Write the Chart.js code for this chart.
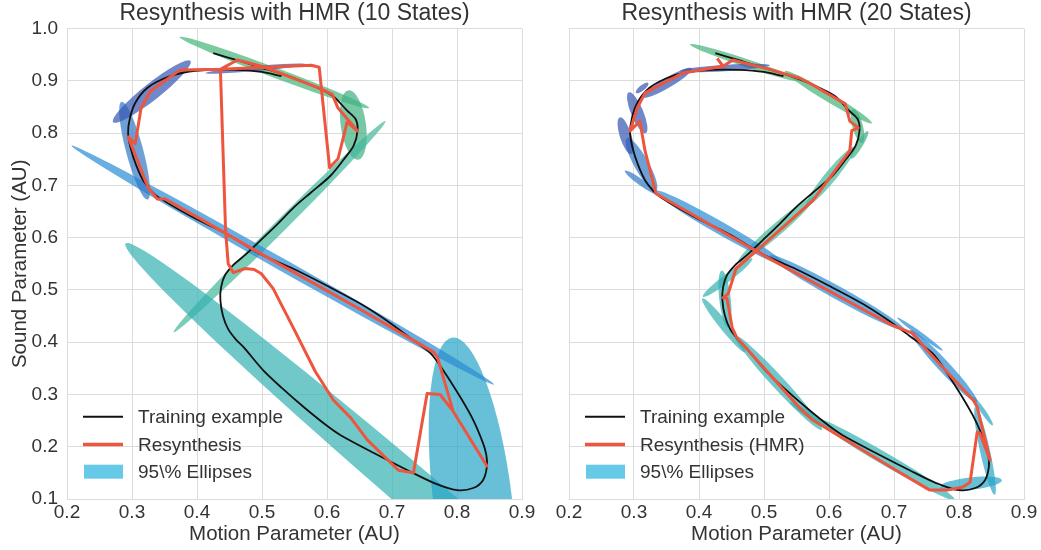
<!DOCTYPE html>
<html>
<head>
<meta charset="utf-8">
<script src="https://cdn.jsdelivr.net/npm/chart.js@4.4.0/dist/chart.umd.min.js"></script>
<style>
  html, body { margin: 0; padding: 0; background: #fff; }
  #wrap { position: relative; width: 1041px; height: 550px; }
  .panel { position: absolute; top: 0; }
  #left { left: 0; }
  #right { left: 545px; }
</style>
</head>
<body>
<div id="wrap">
  <div class="panel" id="left"><canvas id="chart10" width="545" height="550"></canvas></div>
  <div class="panel" id="right"><canvas id="chart20" width="496" height="550"></canvas></div>
</div>
<script>
// Training example (same curve in both panels)
const trainX = [0.425, 0.460, 0.500, 0.550, 0.590, 0.610, 0.631, 0.644, 0.647, 0.641, 0.626, 0.605, 0.575, 0.549, 0.523, 0.497, 0.475, 0.456, 0.443, 0.437, 0.436, 0.440, 0.448, 0.460, 0.472, 0.502, 0.530, 0.565, 0.600, 0.621, 0.672, 0.724, 0.764, 0.800, 0.825, 0.840, 0.846, 0.845, 0.840, 0.825, 0.805, 0.779, 0.759, 0.724, 0.690, 0.651, 0.600, 0.549, 0.497, 0.446, 0.395, 0.338, 0.318, 0.306, 0.298, 0.294, 0.297, 0.306, 0.323, 0.350, 0.380, 0.420, 0.460, 0.500, 0.530];
const trainY = [0.953, 0.940, 0.925, 0.905, 0.884, 0.870, 0.843, 0.827, 0.805, 0.776, 0.750, 0.718, 0.686, 0.658, 0.625, 0.594, 0.568, 0.548, 0.528, 0.505, 0.480, 0.450, 0.425, 0.405, 0.390, 0.346, 0.313, 0.275, 0.240, 0.222, 0.188, 0.155, 0.131, 0.117, 0.121, 0.136, 0.162, 0.185, 0.207, 0.251, 0.295, 0.346, 0.379, 0.412, 0.443, 0.474, 0.508, 0.540, 0.569, 0.607, 0.638, 0.680, 0.708, 0.740, 0.771, 0.800, 0.830, 0.860, 0.886, 0.905, 0.916, 0.921, 0.921, 0.917, 0.909];

// Resynthesis, 10 states
const res10X = [0.436, 0.462, 0.502, 0.590, 0.608, 0.617, 0.647, 0.631, 0.617, 0.604, 0.588, 0.576, 0.436, 0.444, 0.448, 0.456, 0.474, 0.488, 0.499, 0.517, 0.548, 0.582, 0.610, 0.636, 0.662, 0.710, 0.733, 0.754, 0.774, 0.794, 0.846, 0.794, 0.770, 0.764, 0.651, 0.517, 0.405, 0.351, 0.339, 0.325, 0.294, 0.305, 0.314, 0.328, 0.374, 0.436];
const res10Y = [0.922, 0.940, 0.927, 0.885, 0.874, 0.848, 0.804, 0.821, 0.751, 0.734, 0.926, 0.930, 0.922, 0.613, 0.550, 0.533, 0.541, 0.539, 0.531, 0.503, 0.428, 0.344, 0.289, 0.256, 0.213, 0.155, 0.150, 0.302, 0.300, 0.268, 0.163, 0.268, 0.371, 0.381, 0.463, 0.556, 0.636, 0.674, 0.674, 0.695, 0.793, 0.780, 0.848, 0.880, 0.921, 0.922];

// Resynthesis (HMR), 20 states
const res20X = [0.428, 0.437, 0.452, 0.509, 0.555, 0.571, 0.625, 0.632, 0.645, 0.635, 0.632, 0.575, 0.494, 0.457, 0.445, 0.437, 0.443, 0.451, 0.458, 0.555, 0.575, 0.698, 0.755, 0.782, 0.806, 0.817, 0.828, 0.832, 0.848, 0.828, 0.822, 0.751, 0.729, 0.698, 0.514, 0.334, 0.317, 0.309, 0.294, 0.305, 0.317, 0.375, 0.437];
const res20Y = [0.943, 0.928, 0.940, 0.922, 0.905, 0.895, 0.856, 0.823, 0.810, 0.805, 0.766, 0.671, 0.581, 0.541, 0.493, 0.485, 0.484, 0.428, 0.409, 0.274, 0.251, 0.159, 0.117, 0.117, 0.123, 0.132, 0.228, 0.226, 0.174, 0.276, 0.289, 0.384, 0.417, 0.432, 0.556, 0.684, 0.766, 0.823, 0.804, 0.848, 0.877, 0.915, 0.928];

// 95% ellipses: major axis end points (x1, y1, x2, y2), minor/major ratio, colour index
const ellipses10 = [
  [0.373, 0.984, 0.665, 0.848, 0.05, 0],
  [0.633, 0.882, 0.648, 0.749, 0.36, 1],
  [0.364, 0.419, 0.690, 0.823, 0.04, 2],
  [0.290, 0.589, 1.271, -0.453, 0.052, 3],
  [0.793, 0.409, 0.855, -0.213, 0.24, 4],
  [0.207, 0.776, 0.857, 0.319, 0.025, 5],
  [0.284, 0.860, 0.324, 0.673, 0.17, 6],
  [0.271, 0.821, 0.390, 0.938, 0.17, 7],
  [0.413, 0.915, 0.567, 0.932, 0.05, 7]
];
const ellipses20 = [
  [0.386, 0.970, 0.555, 0.900, 0.07, 0],
  [0.532, 0.919, 0.666, 0.819, 0.09, 0],
  [0.637, 0.846, 0.651, 0.781, 0.30, 1],
  [0.660, 0.804, 0.634, 0.751, 0.20, 1],
  [0.640, 0.774, 0.565, 0.661, 0.15, 2],
  [0.578, 0.678, 0.460, 0.552, 0.12, 2],
  [0.482, 0.560, 0.406, 0.487, 0.13, 3],
  [0.435, 0.537, 0.445, 0.428, 0.20, 3],
  [0.405, 0.484, 0.471, 0.381, 0.13, 3],
  [0.455, 0.413, 0.589, 0.232, 0.10, 3],
  [0.540, 0.285, 0.605, 0.232, 0.12, 3],
  [0.578, 0.255, 0.794, 0.098, 0.075, 3],
  [0.771, 0.123, 0.866, 0.136, 0.20, 4],
  [0.825, 0.276, 0.855, 0.108, 0.11, 4],
  [0.822, 0.295, 0.852, 0.241, 0.14, 4],
  [0.725, 0.423, 0.828, 0.285, 0.12, 5],
  [0.705, 0.447, 0.775, 0.384, 0.08, 5],
  [0.509, 0.566, 0.717, 0.423, 0.085, 5],
  [0.332, 0.690, 0.532, 0.548, 0.085, 5],
  [0.289, 0.790, 0.334, 0.690, 0.24, 6],
  [0.286, 0.728, 0.335, 0.684, 0.16, 6],
  [0.278, 0.830, 0.296, 0.760, 0.30, 7],
  [0.292, 0.878, 0.318, 0.800, 0.28, 7],
  [0.303, 0.877, 0.322, 0.896, 0.35, 7],
  [0.314, 0.869, 0.389, 0.924, 0.18, 7],
  [0.371, 0.919, 0.509, 0.930, 0.07, 7]
];

const ellipseColors = [
  'rgba(69,181,119,0.7)',
  'rgba(62,176,131,0.7)',
  'rgba(65,184,154,0.7)',
  'rgba(51,176,176,0.7)',
  'rgba(39,165,199,0.7)',
  'rgba(42,139,211,0.7)',
  'rgba(49,119,199,0.7)',
  'rgba(51,85,176,0.7)'
];
const legendPatchColor = '#66c9e8';
const textColor = '#333';
const gridColor = '#dcdcdc';
const fontFamily = '"Liberation Sans", Arial, Helvetica, sans-serif';

Chart.defaults.font.family = fontFamily;
Chart.defaults.color = textColor;

const toPoints = (xs, ys) => xs.map((x, i) => ({ x, y: ys[i] }));

// draws the ellipses under the lines, clipped to the plot area
function ellipsePlugin(items) {
  return {
    id: 'ellipses',
    beforeDatasetsDraw(chart) {
      const { ctx, chartArea, scales } = chart;
      ctx.save();
      ctx.beginPath();
      ctx.rect(chartArea.left, chartArea.top, chartArea.width, chartArea.height);
      ctx.clip();
      items.forEach(([x1, y1, x2, y2, ratio, ci]) => {
        const px1 = scales.x.getPixelForValue(x1), py1 = scales.y.getPixelForValue(y1);
        const px2 = scales.x.getPixelForValue(x2), py2 = scales.y.getPixelForValue(y2);
        const a = Math.hypot(px2 - px1, py2 - py1) / 2;
        ctx.beginPath();
        ctx.ellipse((px1 + px2) / 2, (py1 + py2) / 2, a, a * ratio,
          Math.atan2(py2 - py1, px2 - px1), 0, Math.PI * 2);
        ctx.fillStyle = ellipseColors[ci];
        ctx.fill();
      });
      ctx.restore();
    }
  };
}

// legend in the lower left corner of the plot area
const cornerLegend = {
  id: 'cornerLegend',
  afterDatasetsDraw(chart) {
    const { ctx, chartArea: { left, bottom } } = chart;
    const ds = chart.data.datasets;
    const rows = [
      { label: ds[0].label, color: ds[0].borderColor, width: 2 },
      { label: ds[1].label, color: ds[1].borderColor, width: 3.5 },
      { label: '95\\% Ellipses', patch: legendPatchColor }
    ];
    const offsets = [82.3, 54.5, 27.3];
    ctx.save();
    ctx.font = '19px ' + fontFamily;
    ctx.textBaseline = 'middle';
    rows.forEach((r, i) => {
      const yy = bottom - offsets[i];
      if (r.patch) {
        ctx.fillStyle = r.patch;
        ctx.fillRect(left + 17, yy - 7, 39, 14);
      } else {
        ctx.strokeStyle = r.color;
        ctx.lineWidth = r.width;
        ctx.beginPath();
        ctx.moveTo(left + 16, yy);
        ctx.lineTo(left + 56, yy);
        ctx.stroke();
      }
      ctx.fillStyle = textColor;
      ctx.fillText(r.label, left + 71, yy + 1);
    });
    ctx.restore();
  }
};

function buildChart(canvasId, title, resLabel, resX, resY, ellipses, showY, yWidth, padRight) {
  return new Chart(document.getElementById(canvasId), {
    type: 'scatter',
    data: {
      datasets: [
        {
          label: 'Training example',
          data: toPoints(trainX, trainY),
          showLine: true,
          borderColor: '#111',
          borderWidth: 1.8,
          pointRadius: 0,
          tension: 0.3,
          order: 1
        },
        {
          label: resLabel,
          data: toPoints(resX, resY),
          showLine: true,
          borderColor: '#ee553e',
          borderWidth: 3,
          pointRadius: 0,
          borderJoinStyle: 'round',
          order: 0
        }
      ]
    },
    options: {
      responsive: false,
      animation: false,
      events: [],
      layout: { padding: { left: 0, right: padRight, top: 0, bottom: 0 } },
      plugins: {
        legend: { display: false },
        tooltip: { enabled: false },
        title: {
          display: true,
          fullSize: false,
          text: title,
          color: textColor,
          font: { size: 23, weight: 'normal' },
          padding: { top: 0, bottom: 1 }
        }
      },
      scales: {
        x: {
          type: 'linear',
          min: 0.2,
          max: 0.9,
          afterFit: s => { s.height = 51; },
          grid: { color: gridColor, drawTicks: false },
          border: { color: gridColor },
          ticks: {
            stepSize: 0.1,
            padding: 2,
            autoSkip: false,
            maxRotation: 0,
            color: textColor,
            font: { size: 19 },
            callback: v => v.toFixed(1)
          },
          title: {
            display: true,
            text: 'Motion Parameter (AU)',
            color: textColor,
            font: { size: 20.5 },
            padding: { top: 0, bottom: 3 }
          }
        },
        y: {
          type: 'linear',
          min: 0.1,
          max: 1.0,
          afterFit: s => { s.width = yWidth; },
          grid: { color: gridColor, drawTicks: false },
          border: { color: gridColor },
          ticks: {
            display: showY,
            stepSize: 0.1,
            padding: 9,
            autoSkip: false,
            color: textColor,
            font: { size: 19 },
            callback: v => v.toFixed(1)
          },
          title: {
            display: showY,
            text: 'Sound Parameter (AU)',
            color: textColor,
            font: { size: 20.5 },
            padding: { top: 8, bottom: 0 }
          }
        }
      }
    },
    plugins: [ellipsePlugin(ellipses), cornerLegend]
  });
}

buildChart('chart10', 'Resynthesis with HMR (10 States)', 'Resynthesis',
  res10X, res10Y, ellipses10, true, 67, 23);
buildChart('chart20', 'Resynthesis with HMR (20 States)', 'Resynthesis (HMR)',
  res20X, res20Y, ellipses20, false, 24, 17);
</script>
</body>
</html>
